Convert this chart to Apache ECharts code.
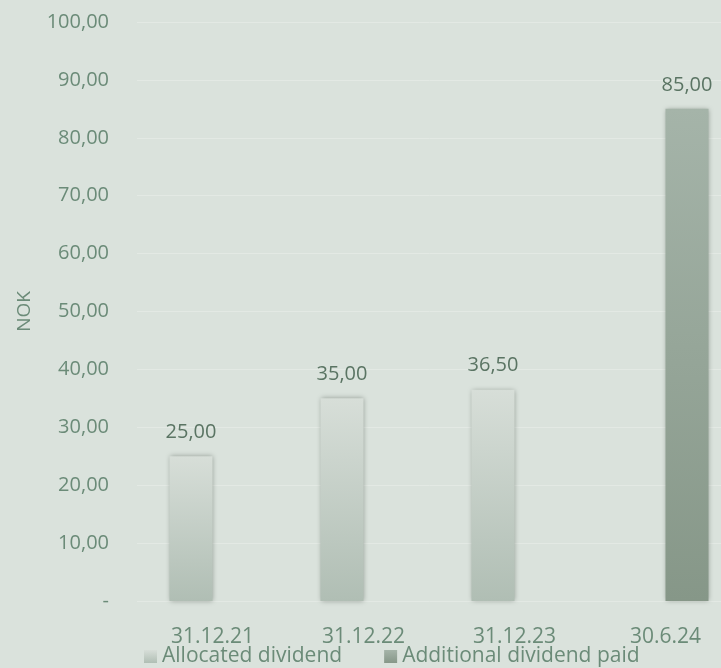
<!DOCTYPE html>
<html><head><meta charset="utf-8">
<script src="https://cdn.jsdelivr.net/npm/echarts@6/dist/echarts.min.js"></script>
<style>html,body{margin:0;padding:0;background:#dae2dc;}#c{width:721px;height:668px;}</style>
</head><body><div id="c"></div>
<script>
const categories = ['31.12.21', '31.12.22', '31.12.23', '30.6.24'];
const allocated = [25.00, 35.00, 36.50, null];
const additional = [null, null, null, 85.00];
const seriesNames = ['Allocated dividend', 'Additional dividend paid'];
const yTicks = {min: 0, max: 100, interval: 10};

const txt = '#6b8b78';
const fmt = v => v === 0 ? '-' : v.toFixed(2).replace('.', ',');
const font = 'Open Sans';
const chart = echarts.init(document.getElementById('c'));
chart.setOption({
  backgroundColor: '#dae2dc',
  textStyle: {fontFamily: font},
  grid: {left: 137, width: 604, top: 22, height: 579, outerBoundsMode: 'none', containLabel: false},
  legend: {
    top: 646, left: 144, padding: 0, itemWidth: 13, itemHeight: 13, itemGap: 42,
    icon: 'rect',
    textStyle: {color: txt, fontSize: 21, fontFamily: font},
    data: seriesNames
  },
  xAxis: {
    type: 'category', data: categories,
    axisLine: {show: false}, axisTick: {show: false},
    axisLabel: {color: txt, fontSize: 21, margin: 26, fontFamily: font}
  },
  yAxis: {
    type: 'value', min: yTicks.min, max: yTicks.max, interval: yTicks.interval,
    name: 'NOK', nameLocation: 'middle', nameGap: 103,
    nameTextStyle: {color: txt, fontSize: 19, fontFamily: font},
    axisLine: {show: false}, axisTick: {show: false},
    splitLine: {lineStyle: {color: '#e3e9e4', width: 1}},
    axisLabel: {color: txt, fontSize: 20, margin: 28, formatter: fmt, fontFamily: font}
  },
  series: [
    {
      name: seriesNames[0], type: 'bar', data: allocated, barWidth: 43, barGap: '0%',
      itemStyle: {
        color: new echarts.graphic.LinearGradient(0, 0, 0, 1, [
          {offset: 0, color: '#d7ded8'}, {offset: 1, color: '#b0beb4'}]),
        shadowBlur: 5, shadowColor: 'rgba(60,70,60,0.45)'
      },
      label: {show: true, position: 'top', distance: 14, color: '#5a7463', fontSize: 20, formatter: p => fmt(p.value), fontFamily: font}
    },
    {
      name: seriesNames[1], type: 'bar', data: additional, barWidth: 43,
      itemStyle: {
        color: new echarts.graphic.LinearGradient(0, 0, 0, 1, [
          {offset: 0, color: '#a5b4a9'}, {offset: 1, color: '#869788'}]),
        shadowBlur: 5, shadowColor: 'rgba(60,70,60,0.45)'
      },
      label: {show: true, position: 'top', distance: 14, color: '#5a7463', fontSize: 20, formatter: p => fmt(p.value), fontFamily: font}
    }
  ]
});
</script></body></html>
